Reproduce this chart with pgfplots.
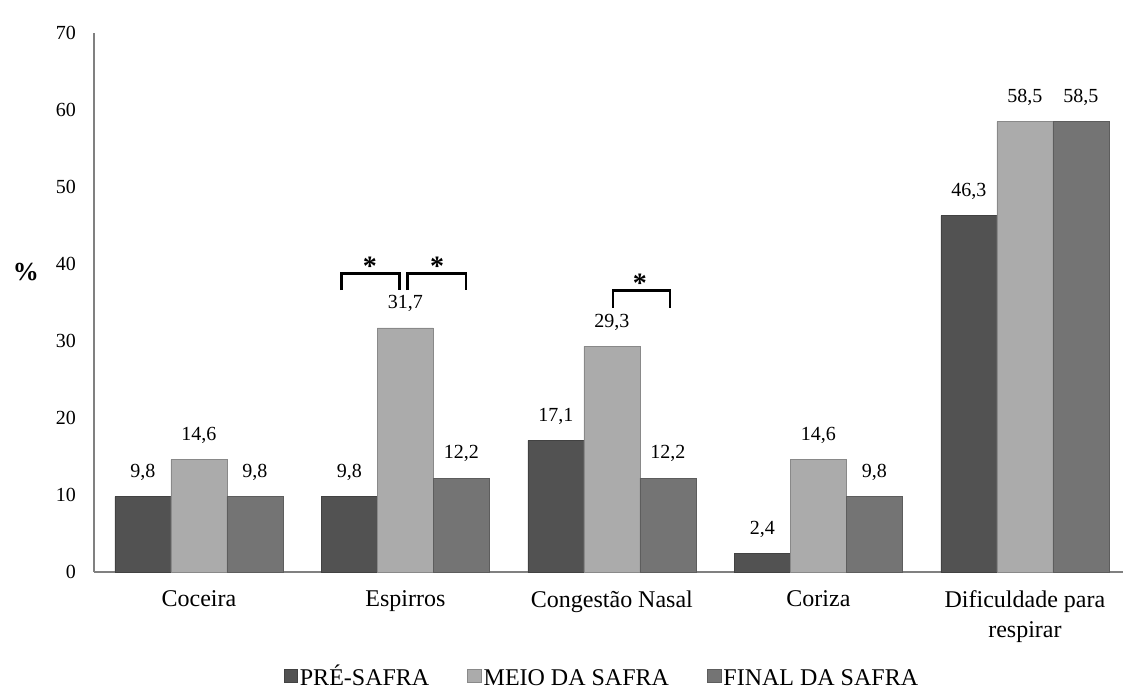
\documentclass[border=0pt]{standalone}
\usepackage{fontspec}
\setmainfont{Liberation Serif}
\usepackage{pgfplots}
\pgfplotsset{compat=1.18}
\definecolor{cpre}{HTML}{525252}
\definecolor{cmeio}{HTML}{ABABAB}
\definecolor{cfin}{HTML}{747474}
\begin{document}
\begin{tikzpicture}
\path[use as bounding box] (-47pt,-60.5pt) rectangle (516pt,286pt);
\begin{axis}[
  at={(0,0)}, anchor=south west,
  scale only axis, width=514.5pt, height=269.5pt,
  xmin=-0.508, xmax=4.475, ymin=0, ymax=70,
  axis x line=bottom, axis y line=left,
  axis line style={-, draw=gray, line width=0.8pt},
  xtick={0,1,2,3,4},
  xticklabels={Coceira, Espirros, Congestão Nasal, Coriza, {Dificuldade para\\respirar}},
  xticklabel style={align=center, font=\fontsize{12}{15}\selectfont, yshift=-6pt},
  ytick={0,10,...,70}, major tick length=0pt,
  yticklabel style={font=\fontsize{10}{12}\selectfont, xshift=-5.5pt},
  /pgf/number format/assume math mode=true,
  ybar=0pt, bar width=28pt,
  nodes near coords,
  every node near coord/.append style={font=\fontsize{10}{12}\selectfont, yshift=4.5pt,
    /pgf/number format/.cd, fixed, fixed zerofill, precision=1, use comma, assume math mode=true},
  ylabel={\textbf{\%}},
  every axis y label/.style={at={(rel axis cs:0,0.557)}, anchor=center, xshift=-34pt, font=\fontsize{13}{15}\selectfont},
  legend columns=3,
  legend style={draw=none, fill=none, at={(rel axis cs:0.4935,-0.195)}, anchor=center,
    font=\fontsize{12}{14}\selectfont, nodes={inner sep=1pt},
    /tikz/every even column/.append style={column sep=18pt}},
  legend image code/.code={\fill[#1] (0pt,-2.6pt) rectangle (6.8pt,4.0pt);},
]
\addplot[fill=cpre, draw=cpre!80!black, line width=0.4pt] coordinates {(0,9.8) (1,9.8) (2,17.1) (3,2.4) (4,46.3)};
\addplot[fill=cmeio, draw=cmeio!80!black, line width=0.4pt] coordinates {(0,14.6) (1,31.7) (2,29.3) (3,14.6) (4,58.5)};
\addplot[fill=cfin, draw=cfin!80!black, line width=0.4pt] coordinates {(0,9.8) (1,12.2) (2,12.2) (3,9.8) (4,58.5)};
\legend{\vphantom{É}PRÉ-SAFRA, \vphantom{É}MEIO DA SAFRA, \vphantom{É}FINAL DA SAFRA}
\draw[line width=1.4pt] (axis cs:0.692,36.6) -- (axis cs:0.692,38.8) -- (axis cs:0.973,38.8) -- (axis cs:0.973,36.6);
\draw[line width=1.4pt] (axis cs:1.012,36.6) -- (axis cs:1.012,38.8) -- (axis cs:1.293,38.8) -- (axis cs:1.293,36.6);
\draw[line width=1.4pt] (axis cs:2.005,34.3) -- (axis cs:2.005,36.6) -- (axis cs:2.281,36.6) -- (axis cs:2.281,34.3);
\node[anchor=base, font=\bfseries\fontsize{14}{14}\selectfont] at (axis cs:0.828,38.5) {*};
\node[anchor=base, font=\bfseries\fontsize{14}{14}\selectfont] at (axis cs:1.153,38.5) {*};
\node[anchor=base, font=\bfseries\fontsize{14}{14}\selectfont] at (axis cs:2.136,36.3) {*};
\end{axis}
\end{tikzpicture}
\end{document}
